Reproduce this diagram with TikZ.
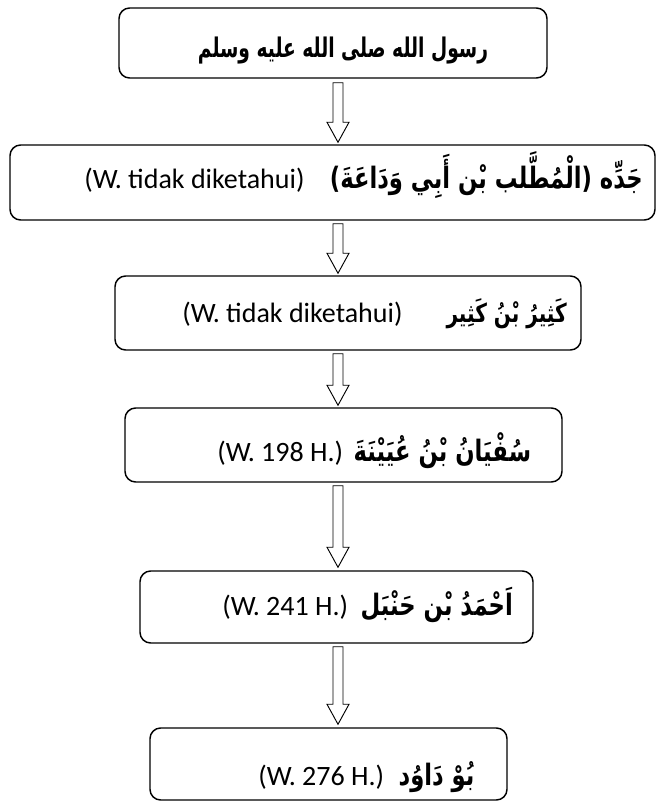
\documentclass[tikz,border=0pt]{standalone}
\usepackage{fontspec}
\setmainfont{Carlito}
\newfontfamily\arabicfont[Script=Arabic]{DejaVu Sans}
\TeXXeTstate=1
\usetikzlibrary{calc,fit}
\newcommand\artxt[2][1.3]{\scalebox{1}[#1]{\beginR #2\endR}}
\tikzset{
  box/.style={draw, line width=1.1pt, rounded corners=8pt, inner sep=0pt},
  lat/.style={font=\fontsize{21}{24}\selectfont, inner sep=0pt},
  arb/.style={font=\arabicfont\bfseries\fontsize{#1}{20}\selectfont, inner sep=0pt},
  arb/.default=16,
  blk/.style={draw, line width=0.7pt, fill=white},
}
\newcommand\blockarrow[2]{%
  \draw[blk] ($(#1)+(-5,0)$) -- ($(#2)+(-5,-20)$) -- ($(#2)+(-11,-20)$) -- (#2)
    -- ($(#2)+(11,-20)$) -- ($(#2)+(5,-20)$) -- ($(#1)+(5,0)$) -- cycle;}
\begin{document}
\begin{tikzpicture}[x=0.75pt,y=-0.75pt]
\useasboundingbox (0,0) rectangle (659,803);
\coordinate (ax) at (338,0);
% boxes
\node[box, fit={(119,8) (547,78)}] (b1) {};
\node[box, fit={(10,145) (655,220)}] (b2) {};
\node[box, fit={(115,276) (581,350)}] (b3) {};
\node[box, fit={(125,408) (562,482)}] (b4) {};
\node[box, fit={(140,571) (533,643)}] (b5) {};
\node[box, fit={(150,728) (507,800)}] (b6) {};
% texts
\node[arb=14, anchor=base] (t1) at (343,57) {\artxt[1.45]{رسول الله صلى الله عليه وسلم}};
\node[lat, anchor=base west] (e2) at (84,188) {(W. tidak diketahui)};
\node[arb=17, anchor=base east] (t2) at (643,188) {\artxt{جَدِّه (الْمُطَّلب بْن أَبِي وَدَاعَةَ)}};
\node[lat, anchor=base west] (e3) at (182,322) {(W. tidak diketahui)};
\node[arb=15, anchor=base east] (t3) at (567,322) {\artxt{كَثِيرُ بْنُ كَثِير}};
\node[lat, anchor=base west] (e4) at (217,461) {(W. 198 H.)};
\node[arb=17, anchor=base west] (t4) at ($(e4.base east)+(10,0)$) {\artxt{سُفْيَانُ بْنُ عُيَيْنَةَ}};
\node[lat, anchor=base west] (e5) at (222,615) {(W. 241 H.)};
\node[arb=17, anchor=base west] (t5) at ($(e5.base east)+(12,0)$) {\artxt{اَحْمَدُ بْن حَنْبَل}};
\node[lat, anchor=base west] (e6) at (258,785) {(W. 276 H.)};
\node[arb=17, anchor=base west] (t6) at ($(e6.base east)+(14,0)$) {\artxt{بُوْ دَاوُد}};
% arrows
\coordinate (a1s) at ($(b1.south -| ax)+(0,4)$);
\coordinate (a1e) at ($(b2.north -| ax)+(0,-2)$);
\coordinate (a2s) at ($(b2.south -| ax)+(0,3)$);
\coordinate (a2e) at ($(b3.north -| ax)+(0,-2)$);
\coordinate (a3s) at ($(b3.south -| ax)+(0,3)$);
\coordinate (a3e) at ($(b4.north -| ax)+(0,-2)$);
\coordinate (a4s) at ($(b4.south -| ax)+(0,3)$);
\coordinate (a4e) at ($(b5.north -| ax)+(0,-3)$);
\coordinate (a5s) at ($(b5.south -| ax)+(0,3)$);
\coordinate (a5e) at ($(b6.north -| ax)+(0,-3)$);
\blockarrow{a1s}{a1e}
\blockarrow{a2s}{a2e}
\blockarrow{a3s}{a3e}
\blockarrow{a4s}{a4e}
\blockarrow{a5s}{a5e}
\end{tikzpicture}
\end{document}
